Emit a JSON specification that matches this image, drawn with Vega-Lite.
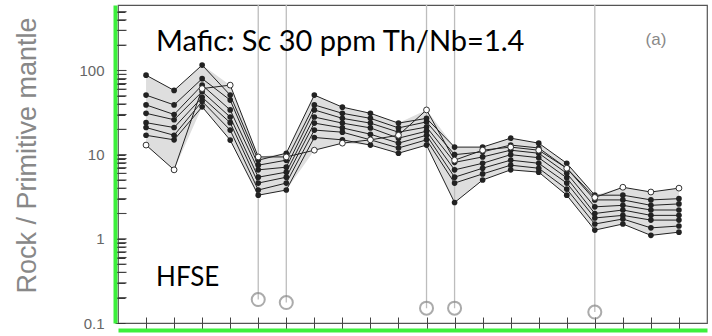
{
  "$schema": "https://vega.github.io/schema/vega-lite/v6.json",
  "width": 589,
  "height": 318,
  "autosize": {"type": "none"},
  "padding": {"left": 118, "top": 5, "right": 5, "bottom": 13},
  "background": "white",
  "config": {
    "view": {"stroke": "#555", "strokeWidth": 1.2},
    "font": "Liberation Sans",
    "axisY": {"ticks": true, "tickSize": -10, "tickColor": "#333", "grid": false}
  },
  "datasets": {
    "samples": [
      {"s":"S1","el":"Rb","v":88,"o":false},{"s":"S2","el":"Rb","v":51,"o":false},{"s":"S3","el":"Rb","v":39,"o":false},{"s":"S4","el":"Rb","v":31,"o":false},{"s":"S5","el":"Rb","v":24,"o":false},{"s":"S6","el":"Rb","v":21,"o":false},{"s":"S7","el":"Rb","v":17,"o":false},{"s":"S8","el":"Rb","v":13,"o":true},
      {"s":"S1","el":"Ba","v":58,"o":false},{"s":"S2","el":"Ba","v":39,"o":false},{"s":"S3","el":"Ba","v":30,"o":false},{"s":"S4","el":"Ba","v":26,"o":false},{"s":"S5","el":"Ba","v":21,"o":false},{"s":"S6","el":"Ba","v":17,"o":false},{"s":"S7","el":"Ba","v":15,"o":false},{"s":"S8","el":"Ba","v":6.6,"o":true},
      {"s":"S1","el":"Th","v":116,"o":false},{"s":"S2","el":"Th","v":80,"o":false},{"s":"S3","el":"Th","v":67,"o":false},{"s":"S4","el":"Th","v":56,"o":false},{"s":"S5","el":"Th","v":48,"o":false},{"s":"S6","el":"Th","v":43,"o":false},{"s":"S7","el":"Th","v":37,"o":false},{"s":"S8","el":"Th","v":61,"o":true},
      {"s":"S1","el":"U","v":51,"o":false},{"s":"S2","el":"U","v":44.5,"o":false},{"s":"S3","el":"U","v":34,"o":false},{"s":"S4","el":"U","v":28,"o":false},{"s":"S5","el":"U","v":24,"o":false},{"s":"S6","el":"U","v":19.6,"o":false},{"s":"S7","el":"U","v":14.9,"o":false},{"s":"S8","el":"U","v":67,"o":true},
      {"s":"S1","el":"Nb","v":8.6,"o":false},{"s":"S2","el":"Nb","v":7.5,"o":false},{"s":"S3","el":"Nb","v":6.6,"o":false},{"s":"S4","el":"Nb","v":5.4,"o":false},{"s":"S5","el":"Nb","v":4.6,"o":false},{"s":"S6","el":"Nb","v":3.8,"o":false},{"s":"S7","el":"Nb","v":3.3,"o":false},{"s":"S8","el":"Nb","v":9.4,"o":true},
      {"s":"S1","el":"Ta","v":10.4,"o":false},{"s":"S2","el":"Ta","v":8.6,"o":false},{"s":"S3","el":"Ta","v":7.1,"o":false},{"s":"S4","el":"Ta","v":6.2,"o":false},{"s":"S5","el":"Ta","v":5.4,"o":false},{"s":"S6","el":"Ta","v":4.6,"o":false},{"s":"S7","el":"Ta","v":3.8,"o":false},{"s":"S8","el":"Ta","v":9.4,"o":true},
      {"s":"S1","el":"La","v":51,"o":false},{"s":"S2","el":"La","v":39,"o":false},{"s":"S3","el":"La","v":34,"o":false},{"s":"S4","el":"La","v":28,"o":false},{"s":"S5","el":"La","v":23.7,"o":false},{"s":"S6","el":"La","v":19.6,"o":false},{"s":"S7","el":"La","v":16,"o":false},{"s":"S8","el":"La","v":11.3,"o":true},
      {"s":"S1","el":"Ce","v":36.7,"o":false},{"s":"S2","el":"Ce","v":31,"o":false},{"s":"S3","el":"Ce","v":27,"o":false},{"s":"S4","el":"Ce","v":23.7,"o":false},{"s":"S5","el":"Ce","v":20.8,"o":false},{"s":"S6","el":"Ce","v":18.5,"o":false},{"s":"S7","el":"Ce","v":15,"o":false},{"s":"S8","el":"Ce","v":13.7,"o":true},
      {"s":"S1","el":"Pr","v":31,"o":false},{"s":"S2","el":"Pr","v":27,"o":false},{"s":"S3","el":"Pr","v":23.7,"o":false},{"s":"S4","el":"Pr","v":20.8,"o":false},{"s":"S5","el":"Pr","v":17.5,"o":false},{"s":"S6","el":"Pr","v":15,"o":false},{"s":"S7","el":"Pr","v":13,"o":false},{"s":"S8","el":"Pr","v":15,"o":true},
      {"s":"S1","el":"Nd","v":23.7,"o":false},{"s":"S2","el":"Nd","v":20.8,"o":false},{"s":"S3","el":"Nd","v":18.5,"o":false},{"s":"S4","el":"Nd","v":15.7,"o":false},{"s":"S5","el":"Nd","v":13.7,"o":false},{"s":"S6","el":"Nd","v":12,"o":false},{"s":"S7","el":"Nd","v":10.4,"o":false},{"s":"S8","el":"Nd","v":17,"o":true},
      {"s":"S1","el":"Zr","v":27,"o":false},{"s":"S2","el":"Zr","v":24.5,"o":false},{"s":"S3","el":"Zr","v":21.3,"o":false},{"s":"S4","el":"Zr","v":19,"o":false},{"s":"S5","el":"Zr","v":17,"o":false},{"s":"S6","el":"Zr","v":15,"o":false},{"s":"S7","el":"Zr","v":13,"o":false},{"s":"S8","el":"Zr","v":34,"o":true},
      {"s":"S1","el":"Hf","v":12.3,"o":false},{"s":"S2","el":"Hf","v":10,"o":false},{"s":"S3","el":"Hf","v":8.1,"o":false},{"s":"S4","el":"Hf","v":6.6,"o":false},{"s":"S5","el":"Hf","v":5.4,"o":false},{"s":"S6","el":"Hf","v":4.6,"o":false},{"s":"S7","el":"Hf","v":2.7,"o":false},{"s":"S8","el":"Hf","v":8.6,"o":true},
      {"s":"S1","el":"Sm","v":12.3,"o":false},{"s":"S2","el":"Sm","v":10.8,"o":false},{"s":"S3","el":"Sm","v":9.4,"o":false},{"s":"S4","el":"Sm","v":7.9,"o":false},{"s":"S5","el":"Sm","v":6.9,"o":false},{"s":"S6","el":"Sm","v":5.9,"o":false},{"s":"S7","el":"Sm","v":5,"o":false},{"s":"S8","el":"Sm","v":11.3,"o":true},
      {"s":"S1","el":"Eu","v":15.7,"o":false},{"s":"S2","el":"Eu","v":13,"o":false},{"s":"S3","el":"Eu","v":11.3,"o":false},{"s":"S4","el":"Eu","v":10,"o":false},{"s":"S5","el":"Eu","v":8.6,"o":false},{"s":"S6","el":"Eu","v":7.5,"o":false},{"s":"S7","el":"Eu","v":6.6,"o":false},{"s":"S8","el":"Eu","v":12.3,"o":true},
      {"s":"S1","el":"Gd","v":13.7,"o":false},{"s":"S2","el":"Gd","v":12,"o":false},{"s":"S3","el":"Gd","v":10.4,"o":false},{"s":"S4","el":"Gd","v":9.2,"o":false},{"s":"S5","el":"Gd","v":7.9,"o":false},{"s":"S6","el":"Gd","v":6.9,"o":false},{"s":"S7","el":"Gd","v":6.2,"o":false},{"s":"S8","el":"Gd","v":11.3,"o":true},
      {"s":"S1","el":"Tb","v":7.9,"o":false},{"s":"S2","el":"Tb","v":6.9,"o":false},{"s":"S3","el":"Tb","v":6,"o":false},{"s":"S4","el":"Tb","v":5.3,"o":false},{"s":"S5","el":"Tb","v":4.6,"o":false},{"s":"S6","el":"Tb","v":3.9,"o":false},{"s":"S7","el":"Tb","v":3.3,"o":false},{"s":"S8","el":"Tb","v":6.9,"o":true},
      {"s":"S1","el":"Ti","v":3.3,"o":false},{"s":"S2","el":"Ti","v":2.9,"o":false},{"s":"S3","el":"Ti","v":2.4,"o":false},{"s":"S4","el":"Ti","v":2,"o":false},{"s":"S5","el":"Ti","v":1.77,"o":false},{"s":"S6","el":"Ti","v":1.5,"o":false},{"s":"S7","el":"Ti","v":1.27,"o":false},{"s":"S8","el":"Ti","v":3.1,"o":true},
      {"s":"S1","el":"Dy","v":3.3,"o":false},{"s":"S2","el":"Dy","v":2.9,"o":false},{"s":"S3","el":"Dy","v":2.5,"o":false},{"s":"S4","el":"Dy","v":2.2,"o":false},{"s":"S5","el":"Dy","v":1.9,"o":false},{"s":"S6","el":"Dy","v":1.72,"o":false},{"s":"S7","el":"Dy","v":1.5,"o":false},{"s":"S8","el":"Dy","v":4.1,"o":true},
      {"s":"S1","el":"Y","v":2.9,"o":false},{"s":"S2","el":"Y","v":2.5,"o":false},{"s":"S3","el":"Y","v":2.2,"o":false},{"s":"S4","el":"Y","v":1.9,"o":false},{"s":"S5","el":"Y","v":1.67,"o":false},{"s":"S6","el":"Y","v":1.35,"o":false},{"s":"S7","el":"Y","v":1.1,"o":false},{"s":"S8","el":"Y","v":3.6,"o":true},
      {"s":"S1","el":"Yb","v":3,"o":false},{"s":"S2","el":"Yb","v":2.6,"o":false},{"s":"S3","el":"Yb","v":2.2,"o":false},{"s":"S4","el":"Yb","v":1.9,"o":false},{"s":"S5","el":"Yb","v":1.67,"o":false},{"s":"S6","el":"Yb","v":1.42,"o":false},{"s":"S7","el":"Yb","v":1.2,"o":false},{"s":"S8","el":"Yb","v":4,"o":true}
    ],
    "hfse": [
      {"el":"Nb","v":0.19},{"el":"Ta","v":0.175},{"el":"Zr","v":0.15},{"el":"Hf","v":0.15},{"el":"Ti","v":0.135}
    ],
    "yticks": [
      {"el":"Rb","v":0.2},{"el":"Rb","v":0.3},{"el":"Rb","v":0.4},{"el":"Rb","v":0.5},{"el":"Rb","v":0.6},{"el":"Rb","v":0.7},{"el":"Rb","v":0.8},{"el":"Rb","v":0.9},{"el":"Rb","v":1},
      {"el":"Rb","v":2},{"el":"Rb","v":3},{"el":"Rb","v":4},{"el":"Rb","v":5},{"el":"Rb","v":6},{"el":"Rb","v":7},{"el":"Rb","v":8},{"el":"Rb","v":9},{"el":"Rb","v":10},
      {"el":"Rb","v":20},{"el":"Rb","v":30},{"el":"Rb","v":40},{"el":"Rb","v":50},{"el":"Rb","v":60},{"el":"Rb","v":70},{"el":"Rb","v":80},{"el":"Rb","v":90},{"el":"Rb","v":100},
      {"el":"Rb","v":200},{"el":"Rb","v":300},{"el":"Rb","v":400},{"el":"Rb","v":500}
    ],
    "notes": [
      {"el":"Rb","v":217,"t":"Mafic: Sc 30 ppm Th/Nb=1.4","k":"big"},
      {"el":"Rb","v":0.342,"t":"HFSE","k":"small"},
      {"el":"Y","v":230,"t":"(a)","k":"tag"}
    ]
  },
  "encoding": {
    "x": {
      "field": "el", "type": "ordinal",
      "sort": ["Rb","Ba","Th","U","Nb","Ta","La","Ce","Pr","Nd","Zr","Hf","Sm","Eu","Gd","Tb","Ti","Dy","Y","Yb"],
      "scale": {"type": "point", "padding": 1},
      "axis": {"labels": false, "title": null, "grid": false, "tickSize": -13, "tickColor": "#444", "domainColor": "#3cf03c", "domainWidth": 4, "offset": 7}
    },
    "y": {
      "field": "v", "type": "quantitative",
      "scale": {"type": "log", "domain": [0.1, 600], "nice": false},
      "axis": {
        "title": "Rock / Primitive mantle",
        "values": [0.1,0.2,0.3,0.4,0.5,0.6,0.7,0.8,0.9,1,2,3,4,5,6,7,8,9,10,20,30,40,50,60,70,80,90,100,200,300,400,500],
        "labelExpr": "(datum.value==0.1||datum.value==1||datum.value==10||datum.value==100) ? format(datum.value,'~g') : ''",
        "offset": 3,
        "domainColor": "#3cf03c",
        "domainWidth": 4,
        "labelColor": "#666",
        "labelFontSize": 15,
        "labelPadding": 21,
        "labelFont": "Liberation Sans",
        "titleColor": "#888",
        "titleFontSize": 27,
        "titleFontWeight": "normal",
        "titleFont": "Liberation Sans",
        "titleAngle": -90,
        "titleAlign": "center",
        "titleBaseline": "middle",
        "titleX": -88,
        "titleY": 150
      }
    }
  },
  "layer": [
    {
      "data": {"name": "samples"},
      "transform": [{"aggregate": [{"op": "min", "field": "v", "as": "v"}, {"op": "max", "field": "v", "as": "v2"}], "groupby": ["el"]}],
      "mark": {"type": "area", "color": "#dedede"},
      "encoding": {"y2": {"field": "v2"}}
    },
    {
      "data": {"name": "yticks"},
      "mark": {"type": "tick", "orient": "horizontal", "color": "#444", "size": 9, "thickness": 1.1, "opacity": 1},
      "encoding": {"xOffset": {"value": -24}}
    },
    {
      "data": {"name": "hfse"},
      "mark": {"type": "rule", "color": "#bdbdbd", "strokeWidth": 1.3},
      "encoding": {"y2": {"datum": 600}}
    },
    {
      "data": {"name": "hfse"},
      "mark": {"type": "point", "filled": false, "color": "#888", "size": 170, "strokeWidth": 2}
    },
    {
      "data": {"name": "samples"},
      "mark": {"type": "line", "color": "#222", "strokeWidth": 1},
      "encoding": {"detail": {"field": "s"}}
    },
    {
      "data": {"name": "samples"},
      "transform": [{"filter": "!datum.o"}],
      "mark": {"type": "point", "filled": true, "color": "#222", "size": 32, "opacity": 1}
    },
    {
      "data": {"name": "samples"},
      "transform": [{"filter": "datum.o"}],
      "mark": {"type": "point", "fill": "white", "stroke": "#333", "strokeWidth": 1, "size": 34, "opacity": 1}
    },
    {
      "data": {"name": "notes"},
      "transform": [{"filter": "datum.k=='big'"}],
      "mark": {"type": "text", "align": "left", "baseline": "middle", "dx": 10, "font": "Lato", "fontSize": 29, "color": "black"},
      "encoding": {"text": {"field": "t"}}
    },
    {
      "data": {"name": "notes"},
      "transform": [{"filter": "datum.k=='small'"}],
      "mark": {"type": "text", "align": "left", "baseline": "middle", "dx": 10, "font": "Lato", "fontSize": 26, "color": "black"},
      "encoding": {"text": {"field": "t"}}
    },
    {
      "data": {"name": "notes"},
      "transform": [{"filter": "datum.k=='tag'"}],
      "mark": {"type": "text", "align": "center", "baseline": "middle", "dx": 5, "font": "Liberation Sans", "fontSize": 17, "color": "#888"},
      "encoding": {"text": {"field": "t"}}
    }
  ]
}
